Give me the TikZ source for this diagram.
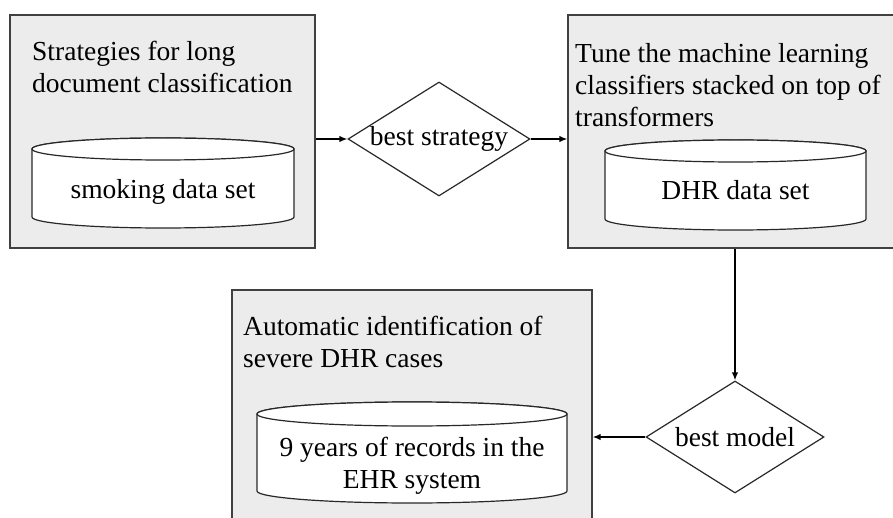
\documentclass[tikz,border=0pt]{standalone}
\usepackage{fontspec}
\setmainfont{Liberation Serif}
\usetikzlibrary{shapes.geometric,arrows.meta}
\definecolor{boxfill}{RGB}{236,236,236}
\definecolor{boxline}{RGB}{64,64,64}
\definecolor{inkline}{RGB}{40,40,40}
\tikzset{
  stagebox/.style={draw=boxline, fill=boxfill, line width=1.3pt, rectangle, inner sep=0pt},
  decision/.style={draw=inkline, fill=white, line width=1.2pt, diamond, inner sep=0pt, aspect=1.6,
    font=\fontsize{27.5}{31.5}\selectfont},
  boxtext/.style={inner sep=0pt, anchor=north west, align=left, font=\fontsize{27.5}{32}\selectfont},
  cyltext/.style={inner sep=0pt, align=center, font=\fontsize{27.5}{32}\selectfont},
  dbody/.style={draw=inkline, fill=white, line width=1.2pt},
  flow/.style={draw=black, line width=1.5pt, -{Latex[length=8pt,width=6.5pt]}}
}
\begin{document}
\begin{tikzpicture}[x=1pt,y=-1pt]
\useasboundingbox (0,0) rectangle (893,518);
\clip (0,0) rectangle (893,518);
\fill[white] (0,0) rectangle (893,518);

% stage boxes
\node[stagebox, minimum width=305pt, minimum height=233pt] (b1) at (162.5,131.5) {};
\node[stagebox, minimum width=334pt, minimum height=233pt] (b2) at (735,131.5) {};
\node[stagebox, minimum width=360pt, minimum height=270pt] (b3) at (412,425) {};

% box titles
\node[boxtext] (t1) at (32,41) {Strategies for long\\document classification};
\node[boxtext] (t2) at (575,43) {Tune the machine learning\\classifiers stacked on top of\\transformers};
\node[boxtext] (t3) at (243,316) {Automatic identification of\\severe DHR cases};

% data set cylinders
\filldraw[dbody] (32,149) -- (32,217) arc[start angle=180,end angle=0,x radius=131,y radius=11]
  -- (294,149) arc[start angle=0,end angle=-180,x radius=131,y radius=11] -- cycle;
\draw[dbody] (163,149) ellipse[x radius=131,y radius=11];
\node[cyltext, anchor=base] (c1) at (163,199) {smoking data set};

\filldraw[dbody] (605,151) -- (605,219) arc[start angle=180,end angle=0,x radius=130.5,y radius=11]
  -- (866,151) arc[start angle=0,end angle=-180,x radius=130.5,y radius=11] -- cycle;
\draw[dbody] (735.5,151) ellipse[x radius=130.5,y radius=11];
\node[cyltext, anchor=base] (c2) at (735.5,200) {DHR data set};

\filldraw[dbody] (257,414) -- (257,491) arc[start angle=180,end angle=0,x radius=155,y radius=12]
  -- (567,414) arc[start angle=0,end angle=-180,x radius=155,y radius=12] -- cycle;
\draw[dbody] (412,414) ellipse[x radius=155,y radius=12];
\node[cyltext, anchor=north] (c3) at (412,436.5) {9 years of records in the\\EHR system};

% decisions
\node[decision, minimum width=182pt, minimum height=114pt] (d1) at (439,139) {best strategy};
\node[decision, minimum width=178pt, minimum height=112pt] (d2) at (735,437) {best model};

% connectors
\draw[flow] (b1.east |- d1.west) -- (d1.west);
\draw[flow] (d1.east) -- (d1.east -| b2.west);
\draw[flow] (b2.south) -- (d2.north);
\draw[flow] (d2.west) -- (d2.west -| b3.east);
\end{tikzpicture}
\end{document}
